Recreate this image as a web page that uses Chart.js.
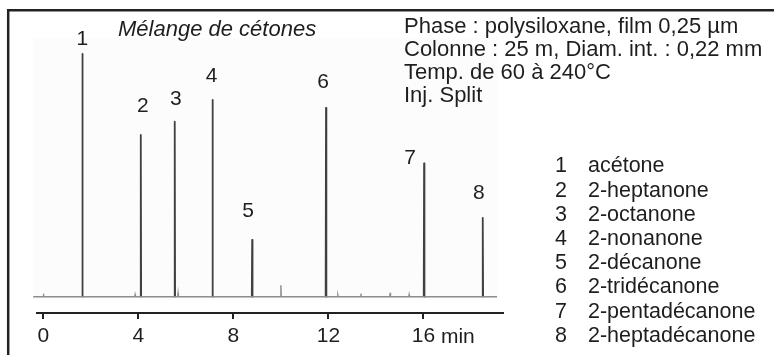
<!DOCTYPE html>
<html>
<head>
<meta charset="utf-8">
<script src="https://cdn.jsdelivr.net/npm/chart.js@4"></script>
<style>
  html, body { margin: 0; padding: 0; background: #fff; }
  #wrap { width: 774px; height: 355px; position: relative; }
</style>
</head>
<body>
<div id="wrap"><canvas id="gc" width="774" height="355"></canvas></div>
<script>
// chromatogram data (retention time in min, signal in arbitrary units)
const peakNumbers = ['1', '2', '3', '4', '5', '6', '7', '8'];
const peakTimes = [1.64, 4.10, 5.53, 7.12, 8.79, 11.90, 16.03, 18.50];
const peakHeights = [242.7, 161.7, 175, 196.7, 56.7, 188.7, 133.4, 78.7];
const minorTimes = [0.0, 3.86, 5.67, 10.0, 12.4, 13.37, 14.6, 15.4];
const minorHeights = [3, 2, 3.5, 11.5, 1.5, 3, 4, 2];
const traceStart = -0.43;
const traceEnd = 19.1;

const compounds = ['acétone', '2-heptanone', '2-octanone', '2-nonanone', '2-décanone',
  '2-tridécanone', '2-pentadécanone', '2-heptadécanone'];
const conditions = ['Phase : polysiloxane, film 0,25 µm', 'Colonne : 25 m, Diam. int. : 0,22 mm',
  'Temp. de 60 à 240°C', 'Inj. Split'];
const titleText = 'Mélange de cétones';
const tickValues = [0, 4, 8, 12, 16];
const tickUnit = 'min';

// label nudges [dx, gap above peak top] - layout only
const labelNudge = [[0, 9], [2, 23], [1, 17], [-1, 18], [-4, 23], [-3, 20], [-14, -1], [-4, 19]];

const HW = 0.015; // half width of a peak in min

function spike(t, h) {
  return [{ x: t - HW, y: 0 }, { x: t, y: h }, { x: t + HW, y: 0 }];
}

// baseline trace with small peaks
let basePts = [{ x: traceStart, y: 0 }];
let all = minorTimes.map((t, i) => [t, minorHeights[i]]).concat(peakTimes.map(t => [t, 0]));
all.sort((a, b) => a[0] - b[0]);
all.forEach(p => { basePts = basePts.concat(spike(p[0], p[1])); });
basePts.push({ x: traceEnd, y: 0 });

// main peaks, separated with gaps
let peakPts = [];
peakTimes.forEach((t, i) => {
  peakPts = peakPts.concat(spike(t, peakHeights[i]));
  peakPts.push({ x: t + HW * 2, y: null });
});

const FONT = '"Liberation Sans", Arial, sans-serif';
const AXIS_Y = 313;

const annot = {
  id: 'annot',
  beforeDraw(chart) {
    const ctx = chart.ctx;
    ctx.save();
    ctx.fillStyle = '#fcfcfc';
    ctx.fillRect(33, 38, 465, 262);
    ctx.strokeStyle = '#222';
    ctx.lineWidth = 2.5;
    ctx.beginPath();
    ctx.moveTo(8.2, 360);
    ctx.lineTo(8.2, 10.2);
    ctx.lineTo(780, 10.2);
    ctx.stroke();
    ctx.restore();
  },
  afterDraw(chart) {
    const ctx = chart.ctx;
    const xs = chart.scales.x, ys = chart.scales.y;
    ctx.save();
    ctx.fillStyle = '#1e1e1e';
    ctx.textBaseline = 'alphabetic';

    ctx.font = 'italic 22px ' + FONT;
    ctx.textAlign = 'left';
    ctx.fillText(titleText, 118, 36);

    ctx.font = '22px ' + FONT;
    conditions.forEach((s, i) => ctx.fillText(s, 404, 33 + 23 * i));

    ctx.font = '21.5px ' + FONT;
    compounds.forEach((s, i) => {
      const y = 172.3 + 24.2 * i;
      ctx.fillText(peakNumbers[i], 555, y);
      ctx.fillText(s, 588, y);
    });

    ctx.font = '21px ' + FONT;
    ctx.textAlign = 'center';
    peakTimes.forEach((t, i) => {
      const px = xs.getPixelForValue(t) + labelNudge[i][0];
      const py = ys.getPixelForValue(peakHeights[i]) - labelNudge[i][1];
      ctx.fillText(peakNumbers[i], px, py);
    });

    // unit after last tick label, same baseline as tick labels
    ctx.font = '21px ' + FONT;
    ctx.textAlign = 'left';
    const last = tickValues[tickValues.length - 1];
    const lx = xs.getPixelForValue(last) + ctx.measureText(String(last)).width / 2 + ctx.measureText(' ').width;
    ctx.fillText(tickUnit, lx, 342.8);
    ctx.restore();
  }
};

new Chart(document.getElementById('gc'), {
  type: 'line',
  data: {
    datasets: [{
      data: basePts,
      borderColor: '#8c8c8c',
      borderWidth: 1.4,
      pointRadius: 0,
      tension: 0,
      clip: false
    }, {
      data: peakPts,
      borderColor: '#404040',
      borderWidth: 1.8,
      borderJoinStyle: 'round',
      pointRadius: 0,
      tension: 0,
      spanGaps: false,
      clip: false
    }]
  },
  options: {
    responsive: false,
    animation: false,
    layout: { padding: { left: 37, right: 271.3, top: 40, bottom: 0 } },
    plugins: { legend: { display: false }, tooltip: { enabled: false } },
    scales: {
      x: {
        type: 'linear',
        min: -0.27,
        max: 19.34,
        afterBuildTicks: scale => { scale.ticks = tickValues.map(v => ({ value: v })); },
        afterFit: scale => { scale.height = 355 - AXIS_Y; },
        grid: { drawOnChartArea: false, drawTicks: true, tickLength: 6, color: '#222', lineWidth: 2 },
        border: { display: true, color: '#222', width: 2 },
        ticks: { color: '#1e1e1e', padding: 5, maxRotation: 0, font: { family: FONT, size: 21 } }
      },
      y: { display: false, min: -16.3, max: 256.7 }
    }
  },
  plugins: [annot]
});
</script>
</body>
</html>
